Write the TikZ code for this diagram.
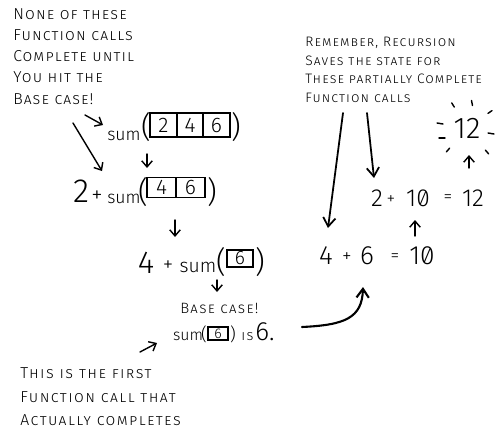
\documentclass[tikz,border=0pt]{standalone}
\usepackage{fontspec}
\setmainfont{Fira Sans Light}
\newfontfamily\slz{Fira Sans Light}[Numbers=SlashedZero]
\newfontfamily\handA{Fira Sans Light}[LetterSpace=7]
\newfontfamily\handB{Fira Sans Light}[LetterSpace=8]
\newfontfamily\handC{Fira Sans Light}[LetterSpace=9]
\usetikzlibrary{arrows.meta}
\tikzset{
  note/.style={align=left, inner sep=0, anchor=north west},
  arr/.style={-{Straight Barb[length=3.5pt,width=6pt]}, line width=0.8pt, line cap=round},
  longarr/.style={-{Straight Barb[length=5pt,width=7pt]}, line width=1pt, line cap=round},
  cellbox/.style={draw, line width=0.8pt, inner sep=0, anchor=center},
  txt/.style={inner sep=0, anchor=center},
  sumtxt/.style={inner sep=0, anchor=base},
  ray/.style={line width=0.8pt, line cap=round}
}
\begin{document}
\begin{tikzpicture}[x=0.02cm,y=-0.02cm]
\useasboundingbox (0,0) rectangle (500,429);

% notes
\node[note, font=\handA\fontsize{9}{12.1}\selectfont] (noteA) at (13,8) {\textsc{None of these}\\\textsc{Function calls}\\\textsc{Complete until}\\\textsc{You hit the}\\\textsc{Base case!}};
\node[note, font=\handB\fontsize{7.8}{10.5}\selectfont] (noteB) at (305,37) {\textsc{Remember, Recursion}\\\textsc{Saves the state for}\\\textsc{These partially Complete}\\\textsc{Function calls}};
\node[note, font=\handC\fontsize{9}{13.6}\selectfont] (noteC) at (20,367) {\textsc{This is the first}\\\textsc{Function call that}\\\textsc{Actually completes}};

% row 1
\node[sumtxt, font=\fontsize{10}{12}\selectfont] (s1) at (124,140) {sum};
\node[txt, font=\fontsize{17}{20}\selectfont] (p1l) at (146,127) {(};
\node[cellbox, minimum width=0.54cm, minimum height=0.48cm, font=\fontsize{12}{14}\selectfont] (c1a) at (163.5,125) {2};
\node[cellbox, minimum width=0.54cm, minimum height=0.48cm, font=\fontsize{12}{14}\selectfont] (c1b) at (190,125) {4};
\node[cellbox, minimum width=0.54cm, minimum height=0.48cm, font=\fontsize{12}{14}\selectfont] (c1c) at (216.5,125) {6};
\node[txt, font=\fontsize{17}{20}\selectfont] (p1r) at (236,127) {)};

% row 2
\node[txt, font=\fontsize{19}{21}\selectfont] (n2) at (81,191) {2};
\node[txt, font=\fontsize{13}{15}\selectfont] (plus2) at (97,197) {+};
\node[sumtxt, font=\fontsize{10}{12}\selectfont] (s2) at (124,203) {sum};
\node[txt, font=\fontsize{17}{20}\selectfont] (p2l) at (143,192) {(};
\node[cellbox, minimum width=0.58cm, minimum height=0.4cm, font=\fontsize{12}{14}\selectfont] (c2a) at (161.5,187.5) {4};
\node[cellbox, minimum width=0.58cm, minimum height=0.4cm, font=\fontsize{12}{14}\selectfont] (c2b) at (190.5,187.5) {6};
\node[txt, font=\fontsize{17}{20}\selectfont] (p2r) at (212,192) {)};

% row 3
\node[txt, font=\fontsize{18}{20}\selectfont] (n3) at (146,263) {4};
\node[txt, font=\fontsize{12}{14}\selectfont] (plus3) at (168,266) {+};
\node[sumtxt, font=\fontsize{11}{13}\selectfont] (s3) at (198,272) {sum};
\node[txt, font=\fontsize{17}{20}\selectfont] (p3l) at (221,262) {(};
\node[cellbox, minimum width=0.52cm, minimum height=0.34cm, font=\fontsize{11}{13}\selectfont] (c3) at (240,258.5) {6};
\node[txt, font=\fontsize{17}{20}\selectfont] (p3r) at (260,262) {)};

% base case
\node[inner sep=0, anchor=base west, font=\handC\fontsize{8.5}{10}\selectfont] (bc) at (180,313) {\textsc{Base case!}};
\node[sumtxt, font=\fontsize{9}{10}\selectfont] (s4) at (188,340) {sum};
\node[txt, font=\fontsize{10}{12}\selectfont] (p4l) at (204,334) {(};
\node[cellbox, minimum width=0.4cm, minimum height=0.26cm, font=\fontsize{8}{10}\selectfont] (c4) at (218,333.5) {6};
\node[txt, font=\fontsize{10}{12}\selectfont] (p4r) at (233,334) {)};
\node[sumtxt, font=\handC\fontsize{8}{10}\selectfont] (is4) at (248,340) {\textsc{is}};
\node[inner sep=0, anchor=base west, font=\fontsize{15}{17}\selectfont] (six) at (255,340) {6.};

% right: 2 + 10 = 12
\node[txt, font=\fontsize{14}{16}\selectfont] (r2) at (377,198) {2};
\node[txt, font=\fontsize{10}{12}\selectfont] (r2p) at (391,200) {+};
\node[txt, font=\fontsize{14}{16}\selectfont\slz] (r2t) at (418,198) {10};
\node[txt, font=\fontsize{10}{12}\selectfont] (r2e) at (448,199) {=};
\node[txt, font=\fontsize{14}{16}\selectfont] (r2r) at (473,198) {12};

% right: 4 + 6 = 10
\node[txt, font=\fontsize{15}{17}\selectfont] (r1a) at (326,256) {4};
\node[txt, font=\fontsize{11}{13}\selectfont] (r1p) at (347,258) {+};
\node[txt, font=\fontsize{15}{17}\selectfont] (r1b) at (367,256) {6};
\node[txt, font=\fontsize{10}{12}\selectfont] (r1e) at (395,258) {=};
\node[txt, font=\fontsize{15}{17}\selectfont\slz] (r1r) at (422,256) {10};

% result 12
\node[txt, font=\fontsize{17}{20}\selectfont] (res) at (467,128) {12};

% arrow coordinates
\coordinate (a1s) at (85,115);   \coordinate (a1e) at (103,125);
\coordinate (a2s) at (73,123);   \coordinate (a2e) at (102,171);
\coordinate (d1s) at (147,154);  \coordinate (d1e) at (147,168);
\coordinate (d2s) at (175,220);  \coordinate (d2e) at (175,237);
\coordinate (d3s) at (217,280);  \coordinate (d3e) at (217,292);
\coordinate (a3s) at (140,352);  \coordinate (a3e) at (157,343);
\coordinate (l1s) at (343,113);  \coordinate (l1e) at (328,228);
\coordinate (l2s) at (367,113);  \coordinate (l2e) at (374,178);
\coordinate (u1s) at (415,236);  \coordinate (u1e) at (415,220);
\coordinate (u2s) at (469,168);  \coordinate (u2e) at (469,155);
\coordinate (cs) at (302,327);   \coordinate (ce) at (363,287);

\draw[arr] (a1s) -- (a1e);
\draw[arr] (a2s) -- (a2e);
\draw[arr] (d1s) -- (d1e);
\draw[arr] (d2s) -- (d2e);
\draw[arr] (d3s) -- (d3e);
\draw[arr] (a3s) -- (a3e);
\draw[longarr] (l1s) -- (l1e);
\draw[longarr] (l2s) -- (l2e);
\draw[arr] (u1s) -- (u1e);
\draw[arr] (u2s) -- (u2e);
\draw[longarr, line width=1.2pt] (cs) .. controls (345,325) and (362,318) .. (ce);

% rays
\draw[ray] (454.3,107.1) -- (451.7,102.9);
\draw[ray] (472.5,105.5) -- (471.5,100.5);
\draw[ray] (488,113.4) -- (492,110.6);
\draw[ray] (437,123) -- (443,124);
\draw[ray] (439,138) -- (445,138);
\draw[ray] (488,133) -- (494,134);
\draw[ray] (449.6,148.1) -- (446.4,151.9);
\draw[ray] (485.4,150.1) -- (488.6,153.9);
\end{tikzpicture}
\end{document}
